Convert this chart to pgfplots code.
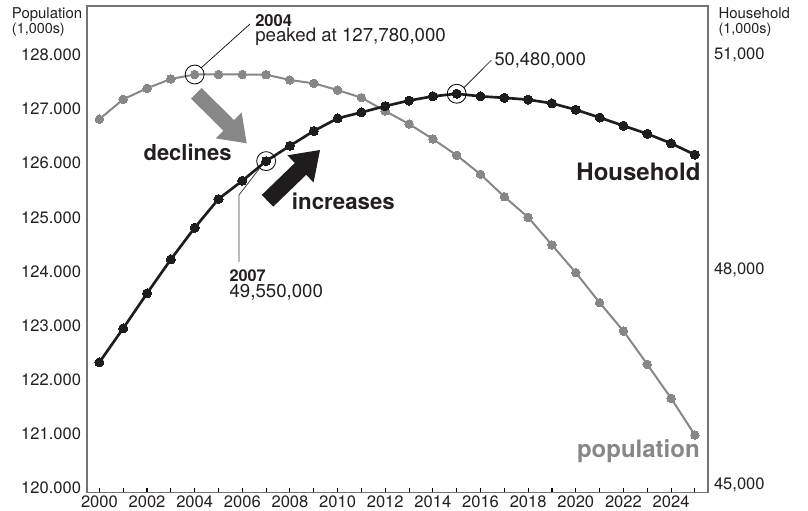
\documentclass[border=0pt]{standalone}
\usepackage{fontspec}
\setmainfont{TeX Gyre Heros}
\usepackage{graphicx}
\usepackage{pgfplots}
\pgfplotsset{compat=1.18}
\definecolor{popgray}{RGB}{135,135,135}
\definecolor{hhblack}{RGB}{30,28,29}
\definecolor{spine}{RGB}{115,115,115}
\definecolor{txt}{RGB}{35,31,32}

\begin{document}
\begin{tikzpicture}
\path[use as bounding box] (-65.25pt,-13.725pt) rectangle (540.75pt,369.525pt);
\begin{axis}[
  scale only axis, width=465.75pt, height=365.0pt,
  xmin=1999.48, xmax=2025.55, ymin=119913, ymax=128905,
  axis line style={spine, line width=0.9pt},
  xtick={2000,2002,2004,2006,2008,2010,2012,2014,2016,2018,2020,2022,2024},
  xticklabels={2000,2002,2004,2006,2008,2010,2012,2014,2016,2018,2020,2022,2024},
  minor xtick={2001,2003,2005,2007,2009,2011,2013,2015,2017,2019,2021,2023,2025},
  xtick pos=left, tick align=inside,
  major tick length=3.2pt, minor tick length=3.2pt,
  xtick style={black, line width=0.8pt},
  minor tick style={black, line width=0.8pt},
  ytick={120000,121000,122000,123000,124000,125000,126000,127000,128000},
  yticklabels={120.000,121.000,122.000,123.000,124.000,125.000,126.000,127.000,128.000},
  ytick pos=left, ytick style={draw=none},
  ticklabel style={font=\fontsize{12.4pt}{14pt}\selectfont, text=txt},
  xticklabel style={yshift=1.2pt},
  yticklabel style={xshift=-1pt},
  clip=false,
]
\addplot[popgray, line width=1.5pt, mark=*, mark size=3.2pt,
  mark options={fill=popgray, draw=popgray, line width=0pt}] coordinates {
(2000,126814) (2001,127182) (2002,127385) (2003,127557) (2004,127640)
(2005,127640) (2006,127640) (2007,127636) (2008,127538) (2009,127477)
(2010,127353) (2011,127211) (2012,126965) (2013,126725) (2014,126448)
(2015,126147) (2016,125796) (2017,125382) (2018,125001) (2019,124490)
(2020,123978) (2021,123424) (2022,122901) (2023,122285) (2024,121657)
(2025,120979)};
\addplot[only marks, mark=o, mark size=7.1pt, mark options={draw=black, line width=0.6pt}]
  coordinates {(2004,127640)};
\end{axis}
\begin{axis}[
  scale only axis, width=465.75pt, height=365.0pt,
  xmin=1999.48, xmax=2025.55, ymin=44893, ymax=51684,
  axis x line=none, axis y line*=right,
  axis line style={spine, line width=0.9pt},
  ytick={45000,48000,51000}, yticklabels={{45,000},{48,000},{51,000}},
  ytick style={draw=none},
  ticklabel style={font=\fontsize{12.4pt}{14pt}\selectfont, text=txt},
  yticklabel style={xshift=1pt},
  clip=false,
]
\addplot[hhblack, line width=2pt, mark=*, mark size=3.4pt,
  mark options={fill=hhblack, draw=hhblack, line width=0pt}] coordinates {
(2000,46712) (2001,47187) (2002,47675) (2003,48149) (2004,48590)
(2005,48991) (2006,49246) (2007,49520) (2008,49734) (2009,49940)
(2010,50117) (2011,50200) (2012,50288) (2013,50365) (2014,50424)
(2015,50460) (2016,50424) (2017,50403) (2018,50378) (2019,50326)
(2020,50237) (2021,50128) (2022,50014) (2023,49901) (2024,49768)
(2025,49609)};
\addplot[only marks, mark=o, mark size=7.1pt, mark options={draw=black, line width=0.6pt}]
  coordinates {(2007,49520) (2015,50460)};
\end{axis}
\begin{scope}[x=0.75pt, y=-0.75pt, shift={(-65.25pt,369.525pt)}]
  % leader lines
  \draw[black, line width=0.5pt] (201,68) -- (250,24);
  \draw[black, line width=0.5pt] (464,87.6) -- (491.5,60);
  \draw[black!75, line width=0.6pt] (259.5,168.5) -- (239,195) -- (239,262);
  % arrows
  \fill[popgray] (201.6,88.0) -- (234.0,120.1) -- (241.6,112.4) -- (246.7,143.3) -- (215.8,138.4) -- (223.4,130.7) -- (191.0,98.6) -- cycle;
  \fill[hhblack] (261.8,194.9) -- (294.8,163.0) -- (287.4,155.3) -- (320,150) -- (313.6,182.5) -- (306.2,174.8) -- (273.2,206.7) -- cycle;
  % texts
  \node[anchor=base west, inner sep=0, text=txt, font=\bfseries\fontsize{12.4pt}{14pt}\selectfont] at (255,26.5) {2004};
  \node[anchor=base west, inner sep=0, text=txt, font=\fontsize{14pt}{16pt}\selectfont] at (255,41.5) {peaked at 127,780,000};
  \node[anchor=base west, inner sep=0, text=txt, font=\fontsize{13.7pt}{16pt}\selectfont] at (494.3,66) {50,480,000};
  \node[anchor=base west, inner sep=0, text=txt, font=\bfseries\fontsize{12.2pt}{14pt}\selectfont] at (229.3,281.5) {2007};
  \node[anchor=base west, inner sep=0, text=txt, font=\fontsize{14pt}{16pt}\selectfont] at (229.3,298) {49,550,000};
  \node[anchor=base west, inner sep=0, text=txt, font=\bfseries\fontsize{16.5pt}{18pt}\selectfont] at (143.3,160.5) {declines};
  \node[anchor=base west, inner sep=0, text=txt, font=\bfseries\fontsize{16.7pt}{18pt}\selectfont] at (291.7,210) {increases};
  \node[anchor=base east, inner sep=0, text=txt, font=\bfseries\fontsize{18pt}{20pt}\selectfont] at (700.7,181) {Household};
  \node[anchor=base east, inner sep=0, text=popgray, font=\bfseries\fontsize{18pt}{20pt}\selectfont] at (700,457.5) {population};
  \node[anchor=base west, inner sep=0, text=txt, font=\fontsize{12.4pt}{14pt}\selectfont] at (11.7,19) {\scalebox{0.903}{Population}};
  \node[anchor=base west, inner sep=0, text=txt, font=\fontsize{12.4pt}{14pt}\selectfont] at (11.7,34) {\scalebox{0.871}{(1,000s)}};
  \node[anchor=base west, inner sep=0, text=txt, font=\fontsize{12.4pt}{14pt}\selectfont] at (718.3,18.5) {\scalebox{0.903}{Household}};
  \node[anchor=base west, inner sep=0, text=txt, font=\fontsize{12.4pt}{14pt}\selectfont] at (718.3,34) {\scalebox{0.871}{(1,000s)}};
\end{scope}
\end{tikzpicture}
\end{document}
